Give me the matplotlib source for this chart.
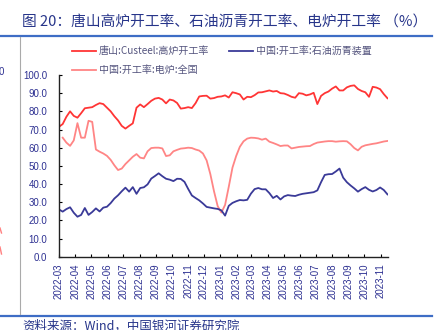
import matplotlib
matplotlib.use("Agg")
import matplotlib.pyplot as plt
import matplotlib.dates as mdates
from matplotlib.lines import Line2D
import numpy as np
import pandas as pd

plt.rcParams['font.family'] = ['Noto Sans CJK SC', 'DejaVu Sans']

# weekly dates
dates = pd.date_range('2022-03-01', periods=90, freq='7D')

# 唐山:Custeel:高炉开工率
tangshan_bf = [
    71.5, 73, 77, 80, 77.5, 76.5, 79, 81.7, 82, 82.3,
    83.5, 84.5, 84, 82, 80, 77.3, 75, 72, 70.5, 72,
    73.4, 82, 83.8, 82.3, 84, 85.8, 87, 87.4, 86.5, 84.4,
    86.5, 86, 84.6, 81.5, 81.8, 82.3, 81.8, 84.5, 88.2, 88.5,
    88.6, 87, 87.3, 88, 88.2, 88.8, 87.6, 90.5, 90, 89.3,
    86.5, 88, 87.8, 88.9, 90.4, 90.5, 91, 91.5, 90.9, 91.2,
    90, 89.8, 89, 88, 87.5, 90, 89.7, 88.8, 89.3, 90.2,
    84, 88.5, 90, 90.9, 92.5, 93.7, 91.5, 91.5, 93.2, 94,
    94.3, 92.3, 91.2, 90.5, 88, 93.5, 93.1, 92.2, 89.5, 87.2,
]

# 中国:开工率:石油沥青装置
asphalt = [
    26, 24.8, 26.2, 27.2, 24.2, 22, 23, 26.8, 23, 24.6,
    26.6, 24.9, 27, 27.5, 29.5, 32, 33.8, 36, 38, 35.8,
    38.3, 34.6, 37.8, 38.2, 39.8, 43, 44.4, 45.9, 44.3, 42.9,
    42.4, 41.6, 42.9, 42.8, 41.2, 37.3, 33.7, 32.3, 31, 29.3,
    27.4, 27, 26.6, 26.3, 25.5, 22.6, 28, 29.6, 30.5, 31.2,
    31, 31.3, 34.7, 37.2, 37.8, 37.1, 37.1, 35, 32.3, 33.5,
    31.5, 33.2, 33.9, 33.6, 33.4, 34.1, 34.6, 34.9, 35.2, 35.5,
    36.5, 41, 45, 45.4, 45.5, 46.9, 48.5, 43.5, 41, 39.2,
    37.6, 35.8, 37.2, 38.3, 36.8, 35.9, 36.7, 38.1, 36.7, 34.3,
]

# 中国:开工率:电炉:全国
eaf = [
    np.nan, 65.5, 62.8, 61, 64, 73.5, 65.5, 65.5, 74.8, 74.2,
    59, 57.8, 56.8, 55.5, 53.3, 50.3, 47.7, 48.5, 51, 53,
    55, 56.5, 54.5, 54.1, 58, 59.8, 60, 60, 59.6, 55.4,
    55.8, 58, 58.8, 59.5, 59.7, 60, 59.8, 59, 58.4, 56.8,
    53, 45.5, 36, 27.8, 24.3, 28.5, 38.5, 49, 55.4, 60.5,
    63.5, 65, 65.5, 65.4, 65.1, 64.4, 65, 63.3, 62.6, 61.8,
    60.9, 61.2, 61.2, 59.6, 60, 60.4, 60.6, 60.8, 60.9, 62,
    62.8, 63.1, 63.4, 63.6, 63.6, 63.3, 63.5, 63.6, 63.5, 61.9,
    59.8, 58.5, 60.5, 61.3, 61.7, 62.1, 62.4, 62.9, 63.4, 63.7,
]

W, H = 442, 330
fig = plt.figure(figsize=(W / 100, H / 100), dpi=100)
fig.patch.set_facecolor('white')

navy = '#2E3192'
title_color = '#27358A'
rule_blue = '#3E6DC5'

# page decorations
fig.text(22 / W, 1 - 23 / H, '图 20：唐山高炉开工率、石油沥青开工率、电炉开工率 （%）',
         fontsize=10.6, color=title_color, va='center', ha='left')
fig.add_artist(Line2D([0, 432 / W], [1 - 36 / H, 1 - 36 / H], color=rule_blue, lw=1.6))
fig.add_artist(Line2D([0, 432 / W], [1 - 315.5 / H, 1 - 315.5 / H], color=rule_blue, lw=1.6))
fig.add_artist(Line2D([20 / W, 20 / W], [1 - 37 / H, 1 - 314 / H], color='#AAAAAA', lw=0.8))
fig.text(-1 / W, 1 - 72 / H, '0', fontsize=7, color=navy, va='center', ha='left',
         family='Liberation Sans')
fig.add_artist(Line2D([0, 1.5 / W], [1 - 228 / H, 1 - 233 / H], color='#FF8080', lw=1))
fig.add_artist(Line2D([0, 1.5 / W], [1 - 247 / H, 1 - 254 / H], color='#FF8080', lw=1))
fig.text(22 / W, 1 - 320 / H, '资料来源：Wind，中国银河证券研究院',
         fontsize=9, color=title_color, va='top', ha='left')

# chart
ax = fig.add_axes([59 / W, 1 - 256.7 / H, (388 - 59) / W, (256.7 - 75) / H])
l1, = ax.plot(dates, tangshan_bf, color='#FF3535', lw=1.3, label='唐山:Custeel:高炉开工率')
l3, = ax.plot(dates, eaf, color='#FF8585', lw=1.3, label='中国:开工率:电炉:全国')
l2, = ax.plot(dates, asphalt, color='#3A3A98', lw=1.3, label='中国:开工率:石油沥青装置')

ax.set_ylim(0, 100)
ax.set_yticks(np.arange(0, 101, 10))
ax.yaxis.set_major_formatter(matplotlib.ticker.FormatStrFormatter('%.1f'))
ax.set_xlim(pd.Timestamp('2022-03-01'), pd.Timestamp('2023-11-15'))
ax.xaxis.set_major_locator(mdates.MonthLocator())
ax.xaxis.set_major_formatter(mdates.DateFormatter('%Y-%m'))

for s in ['top', 'right']:
    ax.spines[s].set_visible(False)
for s in ['left', 'bottom']:
    ax.spines[s].set_linewidth(1.0)
    ax.spines[s].set_color('#222222')

ax.tick_params(axis='y', direction='in', length=2.5, width=0.8, pad=8.5,
               labelsize=7, labelcolor=navy)
ax.tick_params(axis='x', direction='in', length=2.5, width=0.8, pad=5,
               labelsize=7, labelcolor=navy, labelrotation=90)
for lab in ax.get_xticklabels() + ax.get_yticklabels():
    lab.set_family('Liberation Sans')

fig.legend(handles=[l1, l3, l2], loc='upper left', ncol=2,
           bbox_to_anchor=(72 / W, 1 - 46 / H), frameon=False,
           fontsize=7.2, labelcolor='#55557F', handlelength=2.4,
           handletextpad=0.3, columnspacing=2.0, labelspacing=0.9,
           borderpad=0, borderaxespad=0)

fig.savefig('out.png', dpi=100)
